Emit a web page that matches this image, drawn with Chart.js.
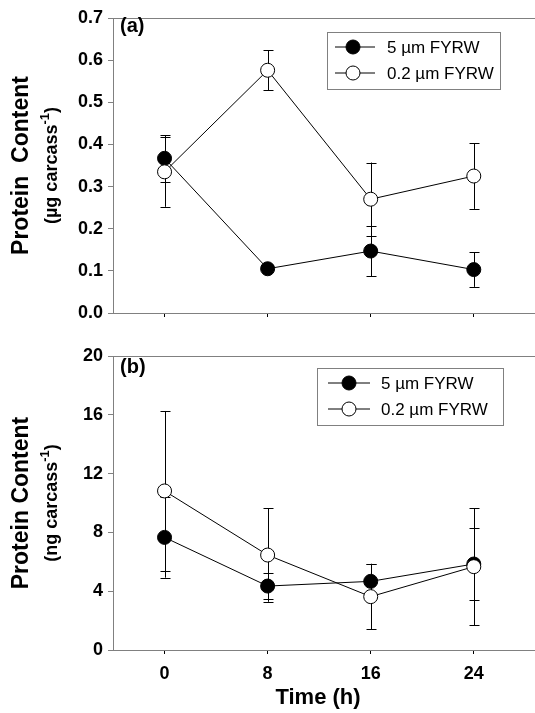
<!DOCTYPE html>
<html>
<head>
<meta charset="utf-8">
<script src="https://cdn.jsdelivr.net/npm/chart.js@4"></script>
<style>
  html, body { margin:0; padding:0; background:#fff; }
  #wrap { position:relative; width:535px; height:713px; overflow:hidden; }
  canvas { position:absolute; left:0; }
</style>
</head>
<body>
<div id="wrap">
  <canvas id="panelA" width="535" height="340" style="top:0"></canvas>
  <canvas id="panelB" width="535" height="373" style="top:340px"></canvas>
</div>
<script>
// sampling times (h)
const hours = [0, 8, 16, 24];
const seriesNames = ['5 \u00b5m FYRW', '0.2 \u00b5m FYRW'];

// (a) protein, ug per carcass
const protA5 = [0.367, 0.105, 0.147, 0.103];
const errA5 = [0.055, 0.008, 0.060, 0.041];
const protA02 = [0.335, 0.576, 0.270, 0.325];
const errA02 = [0.083, 0.047, 0.087, 0.078];
const ticksA = [0, 0.1, 0.2, 0.3, 0.4, 0.5, 0.6, 0.7];

// (b) protein, ng per carcass
const protB5 = [7.66, 4.35, 4.67, 5.85];
const errB5 = [2.74, 0.86, 1.20, 2.45];
const protB02 = [10.82, 6.46, 3.63, 5.67];
const errB02 = [5.44, 3.18, 2.22, 3.97];
const ticksB = [0, 4, 8, 12, 16, 20];

const FONT = '"Liberation Sans", Arial, sans-serif';
const GRAY = '#808080';

const errorBars = {
  id: 'errorBars',
  beforeDatasetsDraw(chart, args, opts){
    const ctx = chart.ctx, xs = chart.scales.x, ys = chart.scales.y;
    ctx.save();
    ctx.strokeStyle = '#000';
    ctx.lineWidth = 1;
    chart.data.datasets.forEach(ds => {
      ds.data.forEach((p, j) => {
        const e = ds.errs[j];
        const x = Math.round(xs.getPixelForValue(p.x)) + 0.5;
        const yHi = ys.getPixelForValue(p.y + e);
        const yLo = ys.getPixelForValue(p.y - e);
        ctx.beginPath();
        ctx.moveTo(x, yHi); ctx.lineTo(x, yLo);
        ctx.moveTo(x - 5, Math.round(yHi) + 0.5); ctx.lineTo(x + 5, Math.round(yHi) + 0.5);
        ctx.moveTo(x - 5, Math.round(yLo) + 0.5); ctx.lineTo(x + 5, Math.round(yLo) + 0.5);
        ctx.stroke();
      });
    });
    ctx.restore();
  }
};

const decorations = {
  id: 'decorations',
  afterDraw(chart, args, o){
    const ctx = chart.ctx, area = chart.chartArea;
    ctx.save();
    // top frame line
    ctx.strokeStyle = GRAY; ctx.lineWidth = 1;
    ctx.beginPath();
    ctx.moveTo(area.left, area.top + 0.5); ctx.lineTo(chart.width, area.top + 0.5);
    ctx.stroke();

    // panel letter
    ctx.fillStyle = '#000';
    ctx.font = 'bold 20px ' + FONT;
    ctx.textBaseline = 'middle';
    ctx.textAlign = 'left';
    ctx.fillText(o.letter, 120, o.letterY);

    // legend box
    const L = o.legend;
    ctx.strokeStyle = GRAY;
    ctx.strokeRect(L.x + 0.5, L.y + 0.5, L.w, L.h);
    chart.data.datasets.forEach((ds, i) => {
      const y = L.rowY[i];
      ctx.strokeStyle = '#000';
      ctx.beginPath();
      ctx.moveTo(L.lineX[0], y); ctx.lineTo(L.lineX[1], y);
      ctx.stroke();
      ctx.beginPath();
      ctx.arc(L.markX, y, 7, 0, Math.PI * 2);
      ctx.fillStyle = ds.pointBackgroundColor;
      ctx.fill(); ctx.stroke();
      ctx.fillStyle = '#000';
      ctx.font = '17px ' + FONT;
      ctx.textAlign = 'left';
      ctx.fillText(ds.label, L.textX, y + 1);
    });

    // y axis title, two lines, rotated
    const cy = (area.top + area.bottom) / 2;
    ctx.save();
    ctx.translate(22, cy);
    ctx.rotate(-Math.PI / 2);
    ctx.textAlign = 'center';
    ctx.font = 'bold 23px ' + FONT;
    ctx.fillText(o.yTitle, 0, 0);
    ctx.restore();

    ctx.save();
    ctx.translate(52, cy);
    ctx.rotate(-Math.PI / 2);
    ctx.font = 'bold 18px ' + FONT;
    const main = o.yUnit, sup = '-1', close = ')';
    const wMain = ctx.measureText(main).width;
    const wClose = ctx.measureText(close).width;
    ctx.font = 'bold 13px ' + FONT;
    const wSup = ctx.measureText(sup).width;
    let x0 = -(wMain + wSup + wClose) / 2;
    ctx.textAlign = 'left';
    ctx.font = 'bold 18px ' + FONT;
    ctx.fillText(main, x0, 0);
    ctx.font = 'bold 13px ' + FONT;
    ctx.fillText(sup, x0 + wMain, -7);
    ctx.font = 'bold 18px ' + FONT;
    ctx.fillText(close, x0 + wMain + wSup, 0);
    ctx.restore();

    // x axis title
    if(o.xTitle){
      ctx.font = 'bold 22px ' + FONT;
      ctx.textAlign = 'center';
      ctx.fillStyle = '#000';
      ctx.fillText(o.xTitle, 318, o.xTitleY);
    }
    ctx.restore();
  }
};

function makeDataset(label, vals, errs, fill, order){
  return {
    label,
    data: hours.map((h, i) => ({x: h, y: vals[i]})),
    errs,
    borderColor: '#000',
    borderWidth: 1,
    pointRadius: 7,
    pointHoverRadius: 7,
    pointBorderWidth: 1,
    pointBorderColor: '#000',
    pointBackgroundColor: fill,
    fill: false,
    tension: 0,
    order
  };
}

function makePanel(id, cfg){
  return new Chart(document.getElementById(id), {
    type: 'line',
    data: {
      datasets: [
        makeDataset(seriesNames[0], cfg.v5, cfg.e5, '#000', 1),
        makeDataset(seriesNames[1], cfg.v02, cfg.e02, '#fff', 0)
      ]
    },
    options: {
      responsive: false,
      animation: false,
      devicePixelRatio: 1,
      layout: { autoPadding: false, padding: { top: cfg.padTop, left: 0, right: 0, bottom: 0 } },
      plugins: {
        legend: { display: false },
        tooltip: { enabled: false },
        decorations: cfg.deco
      },
      scales: {
        x: {
          type: 'linear',
          min: -4,
          max: 28.75,
          afterBuildTicks: s => { s.ticks = hours.map(v => ({value: v})); },
          afterFit: s => { s.height = cfg.xHeight; },
          grid: { drawOnChartArea: false, drawTicks: true, tickLength: 4, tickColor: '#000' },
          border: { color: GRAY, width: 1 },
          ticks: {
            padding: 9,
            color: '#000',
            font: { family: FONT, size: 18, weight: 'bold' },
            callback: v => cfg.xLabels ? String(v) : ''
          }
        },
        y: {
          min: cfg.yTicks[0],
          max: cfg.yTicks[cfg.yTicks.length - 1],
          afterBuildTicks: s => { s.ticks = cfg.yTicks.map(v => ({value: v})); },
          afterFit: s => { s.width = 113; },
          grid: { drawOnChartArea: false, drawTicks: true, tickLength: 5, tickColor: GRAY },
          border: { color: GRAY, width: 1 },
          ticks: {
            padding: 5,
            color: '#000',
            font: { family: FONT, size: 18, weight: 'bold' },
            callback: cfg.fmt
          }
        }
      }
    },
    plugins: [errorBars, decorations]
  });
}

makePanel('panelA', {
  v5: protA5, e5: errA5, v02: protA02, e02: errA02,
  yTicks: ticksA, fmt: v => v.toFixed(1),
  padTop: 18, xHeight: 27, xLabels: false,
  deco: {
    letter: '(a)', letterY: 26,
    yTitle: 'Protein  Content', yUnit: '(\u00b5g carcass',
    legend: { x: 327, y: 32, w: 173, h: 57, rowY: [47, 73], lineX: [335, 375], markX: 353, textX: 387 }
  }
});

makePanel('panelB', {
  v5: protB5, e5: errB5, v02: protB02, e02: errB02,
  yTicks: ticksB, fmt: v => String(v),
  padTop: 16, xHeight: 63, xLabels: true,
  deco: {
    letter: '(b)', letterY: 27,
    yTitle: 'Protein Content', yUnit: '(ng carcass',
    legend: { x: 317, y: 28, w: 186, h: 57, rowY: [43, 69], lineX: [328, 370], markX: 349, textX: 381 },
    xTitle: 'Time (h)', xTitleY: 358
  }
});
</script>
</body>
</html>
